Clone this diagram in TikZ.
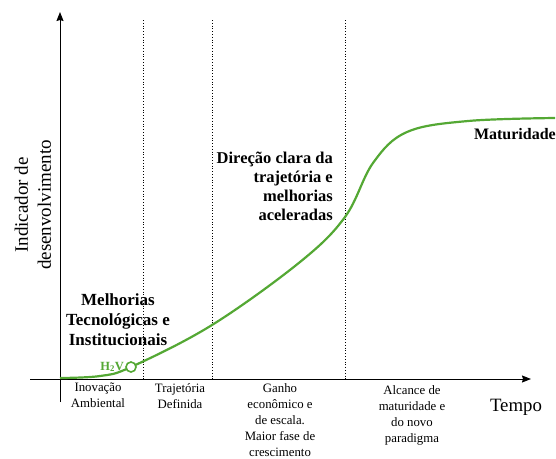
\documentclass[tikz,border=0pt]{standalone}
\usepackage{fontspec}
\setmainfont{Liberation Serif}
\usetikzlibrary{positioning, arrows.meta}
\definecolor{growth}{RGB}{84,168,52}

\begin{document}
\begin{tikzpicture}
[x=1pt, y=-1pt, >={Stealth[length=9pt, width=7pt, inset=1pt]}, phase/.style={align=center, anchor=north, inner sep=0, font=\fontsize{12.8}{16}\selectfont}, stage/.style={inner sep=0, font=\fontsize{16.5}{19}\selectfont\bfseries}, curve/.style={draw=growth, line width=2.2pt}]
\useasboundingbox (0,0) rectangle (556,458);
\coordinate (xstart) at (30,379);
\coordinate (xend) at (531,379);
\coordinate (ybot) at (60,402);
\coordinate (ytop) at (60,12);
\draw [->, line width=1pt] (xstart) -- (xend);
\draw [->, line width=1pt] (ybot) -- (ytop);
\foreach \x in {143, 212, 345}
  \draw [dotted, line width=0.8pt] (\x,20) -- (\x,379);
\draw [curve] plot [smooth, tension=0.6] coordinates {(60,378) (100,376) (131,367) (212,325) (300,262) (345,217) (373,163) (407,132) (468,121) (555,118)};
\node (h2v) [circle, draw=growth, fill=white, line width=1.6pt, minimum size=10pt, inner sep=0] at (131,367) {};
\node (h2vlabel) [left=1pt of h2v, inner sep=0, text=growth, font=\fontsize{12.5}{14}\selectfont\bfseries] {H\textsubscript{2}V};
\node (ylabel) [rotate=90, align=center, font=\fontsize{19}{23}\selectfont] at (33,205) {Indicador de\\desenvolvimento};
\node (tempo) [font=\fontsize{18.8}{22}\selectfont] at (516,407) {Tempo};
\node (melhorias) [stage, align=center, font=\fontsize{17}{20}\selectfont\bfseries] at (118,320) {Melhorias\\Tecnológicas e\\Institucionais};
\node (direcao) [stage, align=right, anchor=east] at (333,186) {Direção clara da\\trajetória e\\melhorias\\aceleradas};
\node (maturidade) [stage, anchor=east, font=\fontsize{16}{19}\selectfont\bfseries] at (556,134) {Maturidade};
\node (inovacao) [phase] at (98,383) {Inovação\\Ambiental};
\node (trajetoria) [phase] at (180,383) {Trajetória\\Definida};
\node (ganho) [phase] at (280,383) {Ganho\\econômico e\\de escala.\\Maior fase de\\crescimento};
\node (alcance) [phase] at (412,385) {Alcance de\\maturidade e\\do novo\\paradigma};
\end{tikzpicture}
\end{document}
